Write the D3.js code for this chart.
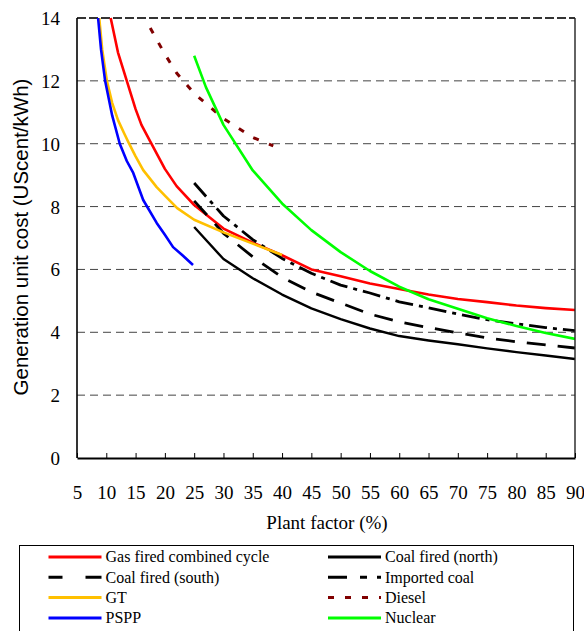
<!DOCTYPE html>
<html><head><meta charset="utf-8">
<script src="https://cdn.jsdelivr.net/npm/d3@7"></script>
<style>
html,body{margin:0;padding:0;background:#fff;}
svg{display:block;}
.serif{font-family:"Liberation Serif","Times New Roman","DejaVu Serif",serif;}
.sans{font-family:"Liberation Sans",Arial,sans-serif;}
</style></head>
<body>
<svg id="chart" width="584" height="631"></svg>
<script>
// ---- data ----
const xTicks = [5,10,15,20,25,30,35,40,45,50,55,60,65,70,75,80,85,90];
const yTicks = [0,2,4,6,8,10,12,14];

const gasX = [10.75,12,13.5,15,16,17.7,20,22,25,30,35,40,45,50,55,60,65,70,75,80,85,90];
const gasY = [14,12.9,12.0,11.1,10.6,10.0,9.2,8.65,8.05,7.3,6.85,6.45,6.0,5.78,5.55,5.38,5.2,5.06,4.96,4.85,4.77,4.71];

const coalX = [25,30,35,40,45,50,55,60,65,70,75,80,85,90];
const coalNorthY = [7.35,6.33,5.72,5.2,4.76,4.42,4.12,3.88,3.74,3.62,3.49,3.37,3.26,3.15];
const coalSouthY = [8.18,7.15,6.4,5.75,5.28,4.93,4.58,4.33,4.15,3.98,3.82,3.7,3.6,3.5];
const importedY  = [8.75,7.7,6.95,6.35,5.88,5.5,5.25,4.97,4.78,4.58,4.4,4.27,4.15,4.05];

const gtX = [8.8,9.3,10.1,11,12,13,13.9,15,16.3,18.6,20,22.1,25,30,35,40];
const gtY = [14,13,12.0,11.3,10.75,10.35,10.0,9.6,9.16,8.62,8.35,7.95,7.58,7.18,6.82,6.46];

const psppX = [8.6,9.1,9.8,11,12.3,13.5,14.6,16.3,18.6,20,21.4,23,24.8];
const psppY = [14,13,12,10.9,10,9.45,9.07,8.21,7.48,7.1,6.71,6.45,6.14];

const dieselX = [17.5,20,22,25,30,35,38.5];
const dieselY = [13.68,12.85,12.25,11.6,10.8,10.2,9.93];

const nuclearX = [25,27,30,35,40,45,50,55,60,65,70,75,80,85,90];
const nuclearY = [12.8,11.8,10.6,9.15,8.1,7.25,6.55,5.95,5.45,5.05,4.75,4.45,4.2,3.98,3.79];

const seriesNames = ["Gas fired combined cycle","Coal fired (north)","Coal fired (south)","Imported coal","GT","Diesel","PSPP","Nuclear"];

// ---- styles ----
const series = [
  {name:seriesNames[0], xs:gasX, ys:gasY, color:"#ff0000", w:2.6, dash:null, legDash:null},
  {name:seriesNames[1], xs:coalX, ys:coalNorthY, color:"#000000", w:2.4, dash:null, legDash:null},
  {name:seriesNames[2], xs:coalX, ys:coalSouthY, color:"#000000", w:2.8, dash:"19,12", legDash:"14,23,16"},
  {name:seriesNames[3], xs:coalX, ys:importedY, color:"#000000", w:2.8, dash:"18,6,4,6", legDash:"19,13,7,10,7"},
  {name:seriesNames[4], xs:gtX, ys:gtY, color:"#ffc000", w:2.6, dash:null, legDash:null},
  {name:seriesNames[5], xs:dieselX, ys:dieselY, color:"#800000", w:3, dash:"6,11", legDash:"6,11"},
  {name:seriesNames[6], xs:psppX, ys:psppY, color:"#0000ff", w:2.6, dash:null, legDash:null},
  {name:seriesNames[7], xs:nuclearX, ys:nuclearY, color:"#00ff00", w:2.6, dash:null, legDash:null}
];

const L = 77, R = 575, T = 18, B = 458;
const x = d3.scaleLinear().domain([5,90]).range([L,R]);
const y = d3.scaleLinear().domain([0,14]).range([B,T]);

const svg = d3.select("#chart");

// clip
svg.append("defs").append("clipPath").attr("id","plot")
  .append("rect").attr("x",L).attr("y",T-2).attr("width",R-L).attr("height",B-T+2);

// gridlines
svg.append("g").selectAll("line").data(yTicks.filter(v=>v>0 && v<14)).join("line")
  .attr("x1",L).attr("x2",R).attr("y1",d=>y(d)).attr("y2",d=>y(d))
  .attr("stroke","#444").attr("stroke-width",1).attr("stroke-dasharray","8,5");

// top border (dashed)
svg.append("line").attr("x1",L).attr("x2",R).attr("y1",y(14)).attr("y2",y(14))
  .attr("stroke","#333").attr("stroke-width",1.8).attr("stroke-dasharray","9,3");

// lines
const line = d3.line().x(d=>x(d[0])).y(d=>y(d[1]));
const gl = svg.append("g").attr("clip-path","url(#plot)");
series.forEach(s=>{
  const pts = s.xs.map((v,i)=>[v,s.ys[i]]);
  gl.append("path").datum(pts).attr("d",line)
    .attr("fill","none").attr("stroke",s.color).attr("stroke-width",s.w)
    .attr("stroke-linejoin","round")
    .attr("stroke-dasharray",s.dash);
});

// borders
svg.append("line").attr("x1",L).attr("x2",L).attr("y1",T).attr("y2",B).attr("stroke","#000").attr("stroke-width",1.6);
svg.append("line").attr("x1",R).attr("x2",R).attr("y1",T).attr("y2",B).attr("stroke","#222").attr("stroke-width",1.4);

// x axis
const xAxis = d3.axisBottom(x).tickValues(xTicks).tickSizeInner(-5).tickSizeOuter(0).tickFormat(d3.format("d"));
const gx = svg.append("g").attr("transform",`translate(0,${B})`).call(xAxis);
gx.attr("font-family",null).attr("font-size",null);
gx.select(".domain").attr("stroke","#000").attr("stroke-width",2);
gx.selectAll(".tick line").attr("stroke","#000").attr("stroke-width",1);
gx.selectAll(".tick text").attr("y",41).attr("dy",0).attr("class","serif")
  .style("font-size","19px").attr("fill","#000");

// y axis
const yAxis = d3.axisLeft(y).tickValues(yTicks).tickSize(0).tickPadding(17).tickFormat(d3.format("d"));
const gy = svg.append("g").attr("transform",`translate(${L},0)`).call(yAxis);
gy.attr("font-family",null).attr("font-size",null);
gy.select(".domain").remove();
gy.selectAll(".tick text").attr("class","serif").style("font-size","19px").attr("fill","#000").attr("dy","0.34em");

// axis titles
svg.append("text").attr("class","serif").attr("x",327).attr("y",529).attr("text-anchor","middle")
  .style("font-size","19px").attr("fill","#000").text("Plant factor (%)");
svg.append("text").attr("class","sans").attr("transform","translate(28,237) rotate(-90)").attr("text-anchor","middle")
  .style("font-size","20.5px").attr("fill","#000").text("Generation unit cost (UScent/kWh)");

// legend
svg.append("rect").attr("x",19.5).attr("y",545.5).attr("width",554).attr("height",110)
  .attr("fill","none").attr("stroke","#000").attr("stroke-width",1);
const legRowY = [557,577.3,597.6,618];
const leg = svg.append("g");
series.forEach((s,i)=>{
  const col = i%2, row = Math.floor(i/2);
  const lx = col===0 ? 48.5 : 328;
  const ly = legRowY[row];
  leg.append("line").attr("x1",lx).attr("x2",lx+53).attr("y1",ly).attr("y2",ly)
    .attr("stroke",s.color).attr("stroke-width",3).attr("stroke-dasharray",s.legDash);
  leg.append("text").attr("class","serif").attr("x",lx+57).attr("y",ly).attr("dy","0.34em")
    .style("font-size","16px").attr("fill","#000").text(s.name);
});
</script>
</body></html>
